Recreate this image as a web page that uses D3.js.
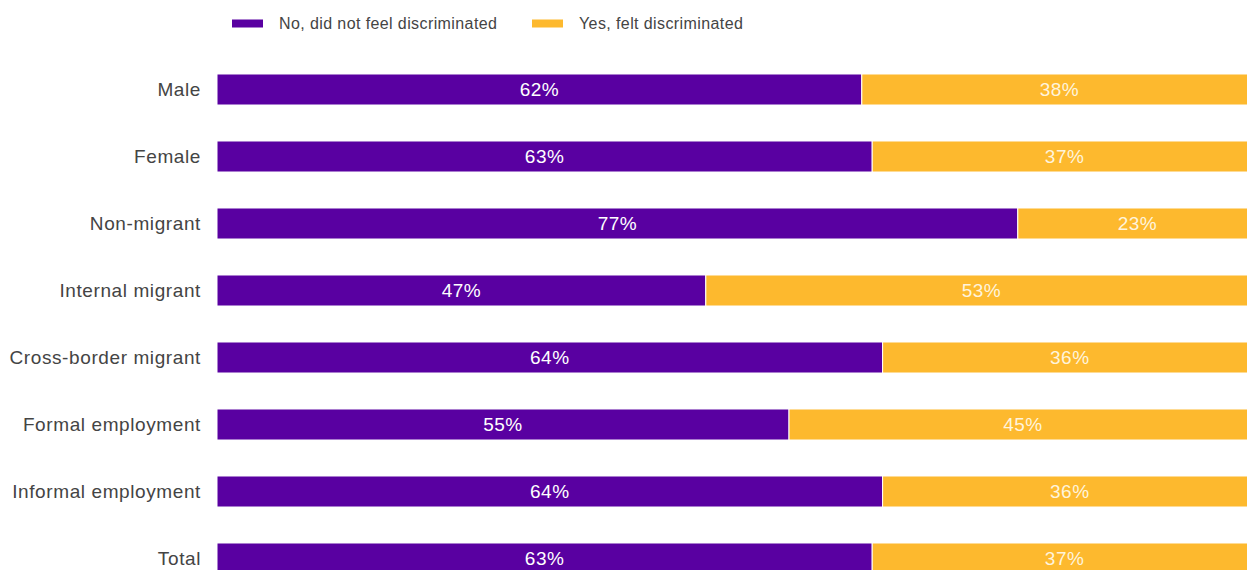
<!DOCTYPE html>
<html>
<head>
<meta charset="utf-8">
<script src="https://cdn.jsdelivr.net/npm/d3@7"></script>
<style>
  html, body { margin: 0; padding: 0; background: #fff; overflow: hidden; }
  svg { display: block; font-family: "Liberation Sans", Arial, sans-serif; }
</style>
</head>
<body>
<svg id="chart" width="1247" height="570"></svg>
<script>
// Groups shown on the vertical axis
const categories = [
  "Male", "Female", "Non-migrant", "Internal migrant",
  "Cross-border migrant", "Formal employment", "Informal employment", "Total"
];
// Share of respondents (%) in each group
const noDiscrimination  = [62, 63, 77, 47, 64, 55, 64, 63];
const yesDiscrimination = [38, 37, 23, 53, 36, 45, 36, 37];
const seriesNames = ["No, did not feel discriminated", "Yes, felt discriminated"];
const seriesColors = ["#5900a1", "#fdb92e"];

const svg = d3.select("#chart");

const x = d3.scaleLinear().domain([0, 100]).range([217, 1257]);
const y = d3.scaleBand().domain(categories).range([56, 592])
  .paddingInner(0.537).paddingOuter(0.2685);

const rows = categories.map((c, i) => ({
  cat: c,
  segs: [
    { s: 0, x0: 0, x1: noDiscrimination[i], v: noDiscrimination[i] },
    { s: 1, x0: noDiscrimination[i], x1: noDiscrimination[i] + yesDiscrimination[i], v: yesDiscrimination[i] }
  ]
}));

// Stacked bars
const g = svg.append("g").selectAll("g").data(rows).join("g");
g.selectAll("rect").data(d => d.segs.map(s => ({ ...s, cat: d.cat }))).join("rect")
  .attr("x", d => x(d.x0))
  .attr("y", d => y(d.cat))
  .attr("width", d => x(d.x1) - x(d.x0))
  .attr("height", y.bandwidth())
  .attr("fill", d => seriesColors[d.s])
  .attr("stroke", "#fff")
  .attr("stroke-width", 1);

// Value labels centred in each segment
g.selectAll("text").data(d => d.segs.map(s => ({ ...s, cat: d.cat }))).join("text")
  .attr("x", d => (x(d.x0) + x(d.x1)) / 2)
  .attr("y", d => y(d.cat) + y.bandwidth() / 2)
  .attr("dy", "0.35em")
  .attr("text-anchor", "middle")
  .attr("font-size", 19)
  .attr("letter-spacing", "0.5px")
  .attr("fill", d => d.s === 0 ? "#ffffff" : "#fff4dc")
  .text(d => d.v + "%");

// Category axis
const yAxis = svg.append("g")
  .attr("transform", `translate(${x(0)},0)`)
  .call(d3.axisLeft(y).tickSize(0).tickPadding(16));
yAxis.select(".domain").remove();
yAxis.selectAll("text")
  .attr("font-size", 19)
  .attr("letter-spacing", "0.6px")
  .attr("font-family", "Liberation Sans, Arial, sans-serif")
  .attr("fill", "#444");

// Legend
const legendX = [232, 532];
const legend = svg.append("g").selectAll("g").data(seriesNames).join("g")
  .attr("transform", (d, i) => `translate(${legendX[i]},23.5)`);
legend.append("rect")
  .attr("x", 0).attr("y", -4).attr("width", 31).attr("height", 8)
  .attr("fill", (d, i) => seriesColors[i]);
legend.append("text")
  .attr("x", 47).attr("dy", "0.35em")
  .attr("font-size", 16)
  .attr("letter-spacing", "0.4px")
  .attr("fill", "#444")
  .text(d => d);
</script>
</body>
</html>
